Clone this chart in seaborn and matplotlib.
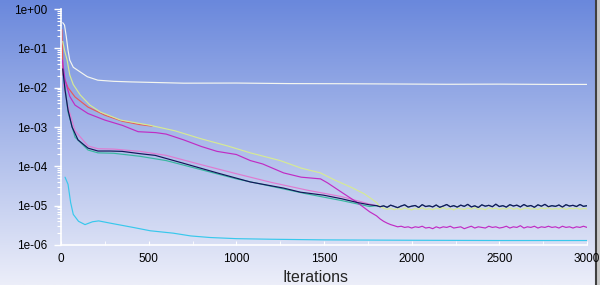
import numpy as np
import pandas as pd
import seaborn as sns
import matplotlib.pyplot as plt

sns.set_style('ticks')
plt.rcParams['font.family'] = ['Liberation Sans', 'DejaVu Sans']

# --- residual histories ---
tail_iters = list(range(1800, 3001, 20))

cont_iters = [10, 20, 30, 40, 50, 70, 110, 150, 210, 300, 400, 700, 1000, 1300, 1600,
              1900, 2200, 2500, 2800, 3000]
cont_vals = [0.45, 0.39, 0.2, 0.09, 0.05, 0.033, 0.025, 0.019, 0.0155, 0.0145, 0.014,
             0.013, 0.0131, 0.0127, 0.0126, 0.0124, 0.0122, 0.0123, 0.0121, 0.0121]

yel_iters = [10, 20, 35, 50, 70, 110, 165, 225, 340, 510, 650, 800, 950, 1080, 1250,
             1370, 1480, 1560, 1650, 1730, 1770]
yel_vals = [0.15, 0.09, 0.05, 0.021, 0.012, 0.0065, 0.0036, 0.0024, 0.0015, 0.0011,
            8e-4, 5e-4, 3.3e-4, 2.2e-4, 1.4e-4, 9e-5, 6.8e-5, 4.5e-5, 3e-5, 2e-5, 1.5e-5]
yel_tail = [1.2e-5, 9.5e-6, 8.6e-6, 8.1e-6, 8.5e-6, 7.9e-6, 8.4e-6, 8.0e-6, 8.7e-6, 8.2e-6,
            7.8e-6, 8.5e-6, 8.1e-6, 8.8e-6, 8.0e-6, 8.4e-6, 7.9e-6, 8.6e-6, 8.2e-6, 8.9e-6,
            8.1e-6, 8.5e-6, 7.8e-6, 8.6e-6, 8.3e-6, 8.0e-6, 8.7e-6, 8.2e-6, 8.9e-6, 8.1e-6,
            8.4e-6, 7.9e-6, 8.8e-6, 8.3e-6, 8.6e-6, 8.0e-6, 8.5e-6, 8.2e-6, 8.9e-6, 8.1e-6,
            8.6e-6, 7.9e-6, 8.4e-6, 8.8e-6, 8.2e-6, 8.5e-6, 8.0e-6, 8.7e-6, 8.3e-6, 8.9e-6,
            8.1e-6, 8.5e-6, 8.2e-6, 8.8e-6, 8.0e-6, 8.6e-6, 8.3e-6, 8.7e-6, 8.1e-6, 8.5e-6,
            8.3e-6]

red_iters = [5, 12, 40, 80, 154, 250, 350, 450, 520]
red_vals = [0.3, 0.021, 0.01, 0.0058, 0.0032, 0.002, 0.0014, 0.00115, 0.00105]

mag_iters = [8, 23, 50, 80, 154, 250, 350, 440, 540, 600, 700, 800, 890, 1000, 1080,
             1150, 1270, 1370, 1480, 1520, 1600, 1690, 1760]
mag_vals = [0.05, 0.0155, 0.006, 0.0036, 0.0022, 0.0015, 0.0011, 7.6e-4, 7.2e-4,
            6.6e-4, 4.7e-4, 3.2e-4, 2.4e-4, 2.0e-4, 1.4e-4, 1.15e-4, 6.8e-5, 5.3e-5,
            4.8e-5, 3.8e-5, 2.2e-5, 1.2e-5, 7e-6]
mag_tail = [5.5e-6, 4.6e-6, 4.0e-6, 3.6e-6, 3.3e-6, 3.1e-6, 2.9e-6, 3.0e-6, 2.8e-6, 2.9e-6,
            2.7e-6, 2.9e-6, 2.8e-6, 3.0e-6, 2.7e-6, 2.8e-6, 2.6e-6, 2.9e-6, 2.7e-6, 2.9e-6,
            2.8e-6, 3.0e-6, 2.7e-6, 2.8e-6, 2.9e-6, 2.6e-6, 2.8e-6, 3.0e-6, 2.7e-6, 2.9e-6,
            2.8e-6, 2.7e-6, 3.0e-6, 2.8e-6, 2.9e-6, 2.7e-6, 2.8e-6, 3.0e-6, 2.7e-6, 2.9e-6,
            2.8e-6, 3.1e-6, 2.7e-6, 2.9e-6, 2.8e-6, 3.0e-6, 2.7e-6, 2.9e-6, 2.8e-6, 3.0e-6,
            2.8e-6, 2.9e-6, 2.7e-6, 3.0e-6, 2.8e-6, 2.9e-6, 2.7e-6, 2.9e-6, 2.8e-6, 3.0e-6,
            2.8e-6]

navy_iters = [10, 23, 40, 63, 97, 154, 211, 280, 349, 450, 537, 697, 891, 1080, 1269,
              1366, 1497, 1600, 1691, 1760]
navy_vals = [0.03, 8.7e-3, 2.7e-3, 1.0e-3, 4.7e-4, 2.9e-4, 2.45e-4, 2.45e-4, 2.4e-4,
             2.1e-4, 1.9e-4, 1.2e-4, 6.8e-5, 4e-5, 2.8e-5, 2.2e-5, 1.85e-5, 1.5e-5,
             1.2e-5, 1.05e-5]
navy_tail = [1.0e-5, 9.4e-6, 9.9e-6, 9.1e-6, 1.03e-5, 9.6e-6, 8.9e-6, 9.8e-6, 1.05e-5, 9.2e-6,
             9.7e-6, 1.01e-5, 9.0e-6, 1.06e-5, 9.5e-6, 9.9e-6, 9.3e-6, 1.04e-5, 9.1e-6, 9.8e-6,
             1.07e-5, 9.4e-6, 1.0e-5, 9.2e-6, 1.03e-5, 9.6e-6, 1.08e-5, 9.3e-6, 9.9e-6, 9.0e-6,
             1.05e-5, 9.7e-6, 1.02e-5, 9.4e-6, 1.09e-5, 9.5e-6, 1.0e-5, 9.2e-6, 1.06e-5, 9.8e-6,
             1.03e-5, 9.3e-6, 1.07e-5, 9.6e-6, 1.01e-5, 9.1e-6, 1.05e-5, 9.7e-6, 1.08e-5, 9.4e-6,
             1.0e-5, 9.6e-6, 1.04e-5, 9.2e-6, 1.06e-5, 9.8e-6, 1.02e-5, 9.5e-6, 1.07e-5, 9.6e-6,
             1.0e-5]

pink_iters = [15, 40, 80, 154, 211, 300, 450, 600, 800, 1000, 1200, 1400, 1600, 1760]
pink_vals = [0.012, 3.2e-3, 8e-4, 3.3e-4, 2.8e-4, 2.75e-4, 2.4e-4, 1.9e-4, 1.1e-4,
             6.5e-5, 3.9e-5, 2.5e-5, 1.7e-5, 1.1e-5]

teal_iters = [15, 40, 80, 154, 211, 300, 450, 600, 800, 1000, 1200, 1400, 1600, 1760]
teal_vals = [0.02, 2.4e-3, 5.5e-4, 2.6e-4, 2.2e-4, 2.15e-4, 1.8e-4, 1.4e-4, 8.2e-5,
             4.8e-5, 3.1e-5, 2.0e-5, 1.35e-5, 9.5e-6]

cyan_iters = [23, 40, 55, 70, 100, 137, 180, 215, 280, 411, 509, 640, 740, 850, 1000,
              1200, 1500, 2000, 2500, 3000]
cyan_vals = [5.3e-5, 3.5e-5, 1.2e-5, 6e-6, 4.0e-6, 3.3e-6, 3.9e-6, 4.1e-6, 3.6e-6,
             2.8e-6, 2.3e-6, 2.0e-6, 1.7e-6, 1.55e-6, 1.45e-6, 1.4e-6, 1.35e-6, 1.32e-6,
             1.3e-6, 1.3e-6]

series = [
    ('red', red_iters, red_vals, '#e85a5a'),
    ('pink', pink_iters + tail_iters, pink_vals + navy_tail, '#e07ad0'),
    ('teal', teal_iters + tail_iters, teal_vals + navy_tail, '#38b8a0'),
    ('cont', cont_iters, cont_vals, '#f4f6f0'),
    ('yellow', yel_iters + tail_iters, yel_vals + yel_tail, '#d6ea94'),
    ('magenta', mag_iters + tail_iters, mag_vals + mag_tail, '#c02cc4'),
    ('navy', navy_iters + tail_iters, navy_vals + navy_tail, '#14145a'),
    ('cyan', cyan_iters, cyan_vals, '#38c8ec'),
]

frames = [pd.DataFrame({'iter': it, 'res': v, 'eq': name}) for name, it, v, _ in series]
df = pd.concat(frames, ignore_index=True)
palette = {name: c for name, _, _, c in series}

fig = plt.figure(figsize=(6, 2.85), dpi=100)

# gradient background
bg = fig.add_axes([0, 0, 1, 1], zorder=-10)
top = np.array([0x6a, 0x88, 0xdc]) / 255
bot = np.array([0xec, 0xee, 0xf9]) / 255
t = np.linspace(0, 1, 256)[:, None]
grad = top[None, :] * (1 - t) + bot[None, :] * t
bg.imshow(grad[:, None, :], aspect='auto', extent=[0, 1, 0, 1])
bg.axis('off')
bg.plot([0.993, 0.993], [0, 1], color='#404040', lw=1.5)
bg.fill_between([0.995, 1.0], 0, 1, color='#c8c8c8')
bg.set_xlim(0, 1)
bg.set_ylim(0, 1)

ax = fig.add_axes([61 / 600, 1 - 245 / 285, 526 / 600, 236 / 285])
ax.set_facecolor('none')
sns.lineplot(data=df, x='iter', y='res', hue='eq', palette=palette, estimator=None,
             sort=False, legend=False, linewidth=0.85, ax=ax)
ax.set_yscale('log')
ax.set_xlim(0, 3000)
ax.set_ylim(1e-6, 1)
ax.set_xlabel('')
ax.set_ylabel('')

yt = [1e-6, 1e-5, 1e-4, 1e-3, 1e-2, 1e-1, 1]
ax.set_yticks(yt, ['1e-06', '1e-05', '1e-04', '1e-03', '1e-02', '1e-01', '1e+00'])
ax.set_xticks([0, 500, 1000, 1500, 2000, 2500, 3000],
              ['0', '500', '1000', '1500', '2000', '2500', '3000'])
ax.set_xticks(range(0, 3001, 250), minor=True)
ax.tick_params(axis='y', which='major', colors='white', labelcolor='black',
               labelsize=8.5, length=5, width=1, pad=5)
ax.tick_params(axis='y', which='minor', colors='white', length=3, width=0.8)
ax.tick_params(axis='x', which='both', direction='in', colors='white',
               labelcolor='black', labelsize=8.5, length=3, pad=6)
for s in ['top', 'right']:
    ax.spines[s].set_visible(False)
for s in ['left', 'bottom']:
    ax.spines[s].set_color('white')
    ax.spines[s].set_linewidth(1.2)

fig.text(315 / 600, 1 - 278 / 285, 'Iterations', ha='center', va='center', fontsize=11.5)

fig.savefig('out.png', dpi=100)
